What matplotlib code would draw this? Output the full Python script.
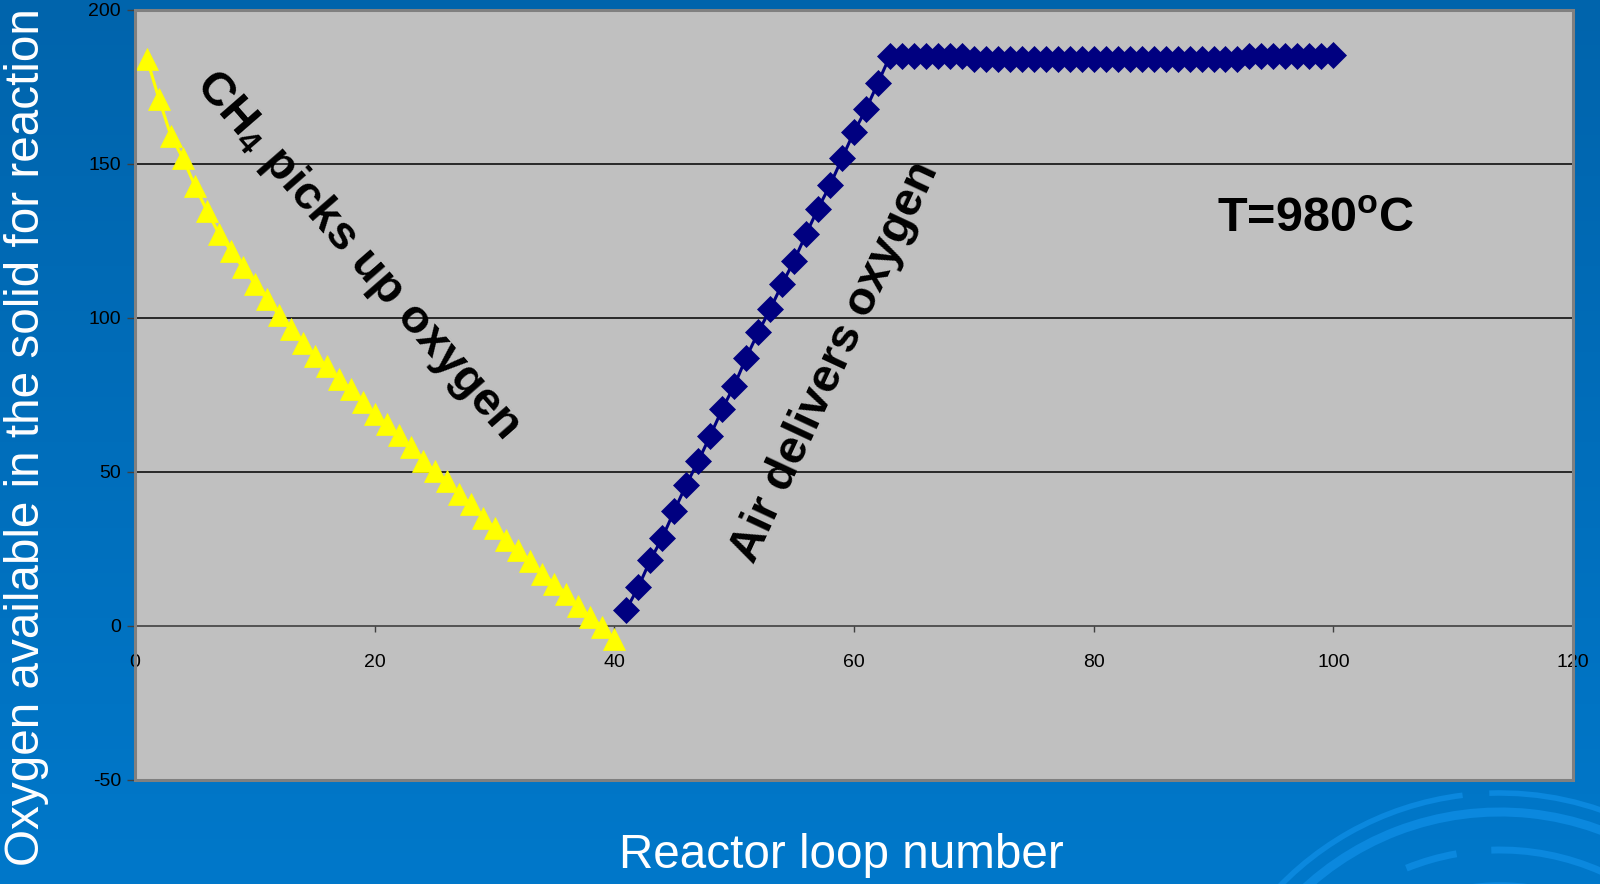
import numpy as np
import matplotlib
matplotlib.use("Agg")
import matplotlib.pyplot as plt
from matplotlib.patches import Rectangle, Arc

plt.rcParams['font.family'] = ['Liberation Sans', 'DejaVu Sans']
plt.rcParams['mathtext.fontset'] = 'custom'
plt.rcParams['mathtext.rm'] = 'Liberation Sans:bold'
plt.rcParams['mathtext.it'] = 'Liberation Sans:bold'
plt.rcParams['mathtext.bf'] = 'Liberation Sans:bold'
plt.rcParams['mathtext.default'] = 'rm'

# Methane (fuel) stage: oxygen removed from the solid, loops 1-40
loops_ch4 = list(range(1, 41))
oxygen_ch4 = [184, 171, 159, 151.7, 142.8, 134.7, 127.3, 121.7, 116.3, 111,
              106, 101, 96.2, 91.9, 87.6, 84.4, 80.0, 76.8, 72.7, 68.7,
              65.4, 61.9, 57.9, 53.5, 50.3, 47.0, 42.7, 39.4, 35.1, 31.9,
              27.8, 24.5, 21.0, 16.9, 13.7, 10.5, 6.4, 2.9, -0.4, -4.4]

# Air stage: oxygen restored to the solid, loops 41-100
loops_air = list(range(41, 101))
oxygen_air = [5.3, 12.6, 21.3, 28.6, 37.3, 45.8, 53.4, 61.7, 70.3, 77.9,
              87.0, 95.2, 102.7, 110.9, 118.5, 127.1, 135.4, 143.0, 151.7, 160.3,
              167.6, 176.2, 184.9, 185, 185, 185, 185, 185, 185, 183.9,
              183.9, 183.9, 183.9, 183.9, 183.9, 183.9, 183.9, 183.9, 183.9, 183.9,
              183.9, 183.9, 183.9, 183.9, 183.9, 183.9, 183.9, 183.9, 183.9, 183.9,
              183.9, 183.9, 185, 185, 185, 185, 185, 185, 185, 185.2]

x_ticks = [0, 20, 40, 60, 80, 100, 120]
y_ticks = [-50, 0, 50, 100, 150, 200]

W, H = 1600, 884
fig = plt.figure(figsize=(W / 100, H / 100), dpi=100)

# Slide background: vertical blue gradient with light swirl arcs
bg = fig.add_axes([0, 0, 1, 1], zorder=0)
top = np.array([0, 100, 172]) / 255
bot = np.array([0, 120, 202]) / 255
t = np.linspace(0, 1, 256)[:, None]
grad = top[None, None, :] * (1 - t[..., None]) + bot[None, None, :] * t[..., None]
grad = np.repeat(grad, 2, axis=1)
bg.imshow(grad, extent=[0, W, H, 0], aspect='auto')
swirl = '#0B88DE'
cx, cy = 1500, 1100
for r, lw, t1, t2 in [(307, 4, 35, 92), (307, 4, 97, 142),
                      (288, 6.5, 30, 138), (250, 5, 40, 92),
                      (250, 5, 100, 112), (215, 4, 60, 100)]:
    bg.add_patch(Arc((cx, cy), 2 * r, 2 * r, theta1=180 + (180 - t2), theta2=180 + (180 - t1),
                     color=swirl, lw=lw))
bg.set_xlim(0, W)
bg.set_ylim(H, 0)
bg.axis('off')

# Chart plot area
ax = fig.add_axes([135 / W, 104 / H, 1438 / W, 770.5 / H], zorder=1)
ax.set_facecolor('#C0C0C0')
ax.set_xlim(0, 120)
ax.set_ylim(-50, 200)

for v in [50, 100, 150]:
    ax.axhline(v, color='#000000', lw=1.1, zorder=1)

ax.plot(loops_ch4, oxygen_ch4, color='#FFFF00', lw=2.2, marker='^', ms=15.5,
        mfc='#FFFF00', mec='#FFFF00', mew=0.5, zorder=3, clip_on=False)
ax.plot(loops_air, oxygen_air, color='#000080', lw=2.2, marker='D', ms=13,
        mfc='#000080', mec='#000080', mew=0.5, zorder=3, clip_on=False)

# Axes: x axis crosses at zero, frame drawn separately
for side in ['top', 'right', 'left']:
    ax.spines[side].set_visible(False)
ax.spines['bottom'].set_position(('data', 0))
ax.spines['bottom'].set_color('#404040')
ax.spines['bottom'].set_linewidth(1.2)
ax.spines['bottom'].set_zorder(2)
ax.add_patch(Rectangle((0, 0), 1, 1, transform=ax.transAxes, fill=False,
                       ec='#808080', lw=2.2, zorder=4, clip_on=False))

ax.set_xticks(x_ticks)
ax.set_yticks(y_ticks)
ax.set_xticklabels([str(v) for v in x_ticks])
ax.set_yticklabels([str(v) for v in y_ticks])
ax.tick_params(axis='x', direction='out', length=4.5, width=1, color='#404040',
               labelsize=14, pad=16)
ax.tick_params(axis='y', direction='out', length=6, width=1, color='#404040',
               labelsize=14, pad=4)

ax.text(18.6, 120.3, 'CH$_{4}$ picks up oxygen', fontsize=34, fontweight='bold',
        rotation=-49, rotation_mode='anchor', ha='center', va='center', zorder=5)
ax.text(58.4, 85.5, 'Air delivers oxygen', fontsize=34, fontweight='bold',
        rotation=65, rotation_mode='anchor', ha='center', va='center', zorder=5)
ax.text(98.5, 132, 'T=980$^{o}$C', fontsize=35, fontweight='bold',
        ha='center', va='center', zorder=5)

fig.text(27 / W, 1 - 437 / H, 'Oxygen available in the solid for reaction',
         color='white', fontsize=34.3, rotation=90, ha='center', va='center')
fig.text(841 / W, 1 - 856 / H, 'Reactor loop number', color='white',
         fontsize=34.3, ha='center', va='center')

fig.savefig('out.png', dpi=100)
